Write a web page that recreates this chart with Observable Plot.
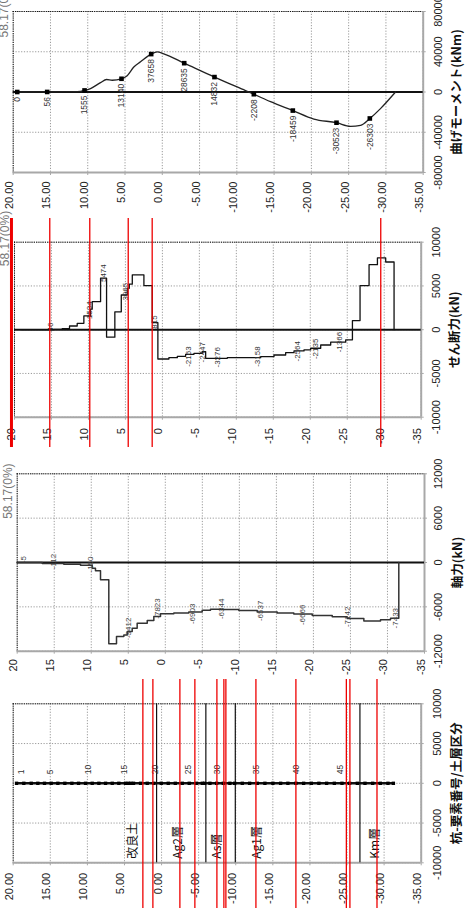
<!DOCTYPE html>
<html><head><meta charset="utf-8">
<script src="https://cdn.jsdelivr.net/npm/d3@7"></script>
<script src="https://cdn.jsdelivr.net/npm/@observablehq/plot@0.6"></script>
<style>
body{margin:0;background:#fff;}
#wrap{position:relative;width:476px;height:921px;overflow:hidden;background:#fff;}
#wrap svg{position:absolute;left:0;}
</style></head><body><div id="wrap"></div>
<script>
// ---------- shared ----------
const depthTicks = [20,15,10,5,0,-5,-10,-15,-20,-25,-30,-35];
const caseLabel = ["58.17(0%)"];

// ---------- panel 1 : bending moment ----------
const momentTicks = [80000,40000,0,-40000,-80000];
const momentCurveDepth = [19.47,15.44,11.42,10.43,9.63,8.29,7.48,6.72,5.47,4.71,3.82,2.92,1.49,0.69,-0.20,-2.94,-7.00,-11.16,-12.28,-14.52,-17.51,-20.33,-23.37,-25.25,-26.6,-27.84,-29.27,-31.29];
const momentCurveValue = [0,56,300,1555,3450,9300,12400,11700,13140,16200,24800,30000,37658,39800,37900,28635,14832,1400,-2208,-9650,-18459,-26900,-30523,-34100,-33100,-26303,-16500,0];
const momentMarkDepth = [19.46,15.44,10.43,5.47,1.49,-2.94,-7.00,-12.28,-17.51,-23.37,-27.84];
const momentMarkValue = [0,56,1555,13140,37658,28635,14832,-2208,-18459,-30523,-26303];

// ---------- panel 2 : shear force ----------
const shearTicks = [10000,5000,0,-5000,-10000];
const shearDepth = [19.10,14.68,13.55,12.56,11.52,10.62,9.72,9.49,8.36,7.55,6.43,5.56,4.75,4.48,4.07,2.50,1.37,0.61,-0.88,-2.02,-3.14,-4.27,-5.40,-5.85,-8.78,-13.29,-15.09,-16.67,-17.80,-19.15,-20.05,-21.41,-22.76,-24.79,-25.70,-26.73,-27.95,-29.08,-30.20,-31.33];
const shearValue = [0,38,115,424,730,1580,2350,3200,5890,-850,2040,3965,4735,5200,6275,5040,808,-3350,-3195,-3040,-2810,-2700,-2500,-3270,-3195,-3080,-2890,-2620,-2425,-2310,-2120,-1750,-1425,-1155,1040,5040,7430,8200,7740,0];
const shearLabelText = ["46","1534","5474","3965","815","-2163","-2447","-3276","-3158","-2564","-2135","-1366"];
const shearLabelDepth = [15.1,9.83,7.92,4.98,1.05,-3.59,-5.40,-7.43,-12.84,-18.25,-20.73,-23.88];
const shearLabelValue = [300,2230,6460,4350,885,-3077,-2577,-3150,-3077,-2460,-2190,-1420];
const shearRedDepth = [15.23,9.82,4.62,1.38,-29.53];
const shearRedEdge = [20.41];

// ---------- panel 3 : axial force ----------
const axialTicks = [12000,6000,0,-6000,-12000];
const axialDepth = [20.0,16.62,13.71,11.45,9.87,9.43,8.75,7.63,6.59,5.60,5.14,4.47,3.80,2.44,1.55,0.65,-1.15,-3.17,-4.98,-6.10,-7.45,-9.93,-12.41,-15.11,-17.35,-19.84,-22.54,-24.56,-26.81,-29.06,-30.41,-31.53];
const axialValue = [-5,-135,-225,-360,-770,-1130,-2345,-11000,-10010,-9800,-9340,-8890,-8210,-7850,-7300,-6930,-6840,-6700,-6470,-6330,-6375,-6510,-6700,-6840,-6980,-7160,-7345,-7580,-7900,-7760,-7530,0];
const axialLabelText = ["-5","-112","-150","-9412","-7823","-6903","-6344","-6537","-6666","-7142","-7433"];
const axialLabelDepth = [19.1,15.06,10.1,5.01,1.01,-3.63,-7.55,-12.86,-18.49,-24.56,-31.09];
const axialLabelValue = [400,135,-270,-8840,-6220,-6945,-6270,-6540,-7080,-7350,-7530];

// ---------- panel 4 : pile nodes / soil layers ----------
const pileTicks = [10000,5000,0,-5000,-10000];
const nodeDepth = [19.55,18.57,17.57,16.68,15.78,14.88,13.98,13.04,12.09,11.19,10.25,9.35,8.45,7.55,6.65,5.76,4.86,4.49,4.14,3.78,2.83,1.93,1.04,0.04,-0.90,-1.85,-2.79,-3.73,-4.68,-5.49,-5.80,-6.52,-7.42,-8.32,-9.21,-9.85,-10.88,-11.87,-12.90,-13.93,-15.01,-16.05,-17.03,-18.11,-19.15,-20.19,-21.21,-22.25,-23.29,-24.32,-25.35,-26.39,-27.42,-28.46,-29.49,-30.52,-31.25];
const nodeLabelText = ["1","5","10","15","20","25","30","35","40","45"];
const nodeLabelDepth = [18.92,15.06,9.94,4.99,0.81,-3.60,-7.51,-12.81,-18.21,-24.14];
const layerNames = ["改良土","Ag2層","As層","Ag1層","Km層"];
const layerLabelDepth = [3.28,-2.79,-7.96,-13.35,-29.31];
const layerBoundaryDepth = [0.67,-5.97,-9.94,-26.74];
const pileRedDepth = [2.52,1.17,-2.47,-4.49,-7.46,-8.40,-8.67,-12.72,-18.11,-24.91,-25.39,-29.04];

// ---------- helpers ----------
const NUM = "'Liberation Sans', Arial, sans-serif";
const JP = "'Noto Sans CJK JP', 'Noto Sans', sans-serif";
const zip = (d, v) => d.map((x, i) => ({depth: x, value: v[i]}));
const fmt2 = d => d.toFixed(2);
const fmt0 = d => String(d);

function panel(cfg) {
  const {top, height, mL, mR, mT, mB, yTicks, xFmt, xLabelDy, yLabelDx, title, titleDx, caseDy, marks} = cfg;
  const yMin = Math.min(...yTicks), yMax = Math.max(...yTicks);
  const frameW = 476 - mL - mR, frameH = height - mT - mB;
  const caseMarks = caseDy == null ? [] : [
    Plot.text(caseLabel, {text: d => d, x: () => 20, y: () => yMax, dx: -9, dy: caseDy, rotate: -90, textAnchor: "start", fontSize: 12, fill: "#777"})
  ];
  const svg = Plot.plot({
    width: 476, height,
    marginLeft: mL, marginRight: mR, marginTop: mT, marginBottom: mB,
    x: {domain: [20, -35], axis: null},
    y: {domain: [yMin, yMax], axis: null},
    style: {fontFamily: NUM, background: "transparent", color: "#222", overflow: "visible"},
    marks: [
      Plot.ruleX(depthTicks, {stroke: "#9a9a9a", strokeDasharray: "1.2,1.6", strokeWidth: 1}),
      Plot.ruleY(yTicks, {stroke: "#9a9a9a", strokeDasharray: "1.2,1.6", strokeWidth: 1}),
      Plot.ruleY([yMax], {stroke: "#111", strokeDasharray: "1.2,1", strokeWidth: 1}),
      Plot.ruleX([20], {stroke: "#111", strokeDasharray: "1.2,1", strokeWidth: 1}),
      Plot.ruleY([yMin], {stroke: "#a8a8a8", strokeWidth: 2}),
      Plot.ruleX([-35], {stroke: "#a8a8a8", strokeWidth: 2}),
      Plot.ruleX(depthTicks, {stroke: "#a8a8a8", insetTop: frameH, insetBottom: -3}),
      Plot.ruleY(yTicks, {stroke: "#a8a8a8", insetLeft: frameW, insetRight: -3}),
      Plot.text(depthTicks, {x: d => d, text: xFmt, frameAnchor: "bottom", dy: xLabelDy, rotate: -90, textAnchor: "end", fontSize: 11, fill: "#222"}),
      Plot.text(yTicks, {y: d => d, text: fmt0, frameAnchor: "right", dx: yLabelDx, rotate: -90, textAnchor: "middle", fontSize: 11, fill: "#222"}),
      Plot.text([title], {text: d => d, frameAnchor: "right", dx: titleDx, rotate: -90, textAnchor: "middle", fontWeight: "bold", fontSize: 12.5, fontFamily: JP, fill: "#111"}),
      ...caseMarks,
      ...marks(frameW, frameH)
    ]
  });
  svg.style.top = top + "px";
  document.getElementById("wrap").appendChild(svg);
}

// Panel 1
panel({
  top: 0, height: 218, mL: 12.7, mR: 53.3, mT: 11, mB: 46,
  yTicks: momentTicks, xFmt: fmt2, xLabelDy: 9, yLabelDx: 15,
  title: "曲げモーメント(kNm)", titleDx: 34, caseDy: 26,
  marks: () => [
    Plot.ruleY([0], {stroke: "#111", strokeWidth: 2}),
    Plot.line(zip(momentCurveDepth, momentCurveValue), {x: "depth", y: "value", curve: "monotone-x", stroke: "#222", strokeWidth: 1.3}),
    Plot.dot(zip(momentMarkDepth, momentMarkValue), {x: "depth", y: "value", symbol: "square", r: 2.6, fill: "#000"}),
    Plot.text(zip(momentMarkDepth, momentMarkValue), {x: "depth", y: "value", text: d => String(d.value), rotate: -90, textAnchor: "end", dy: 5, fontSize: 8.5, fill: "#333"})
  ]
});

// Panel 2
panel({
  top: 218, height: 242, mL: 14, mR: 55.3, mT: 23.7, mB: 43.3,
  yTicks: shearTicks, xFmt: fmt0, xLabelDy: 11, yLabelDx: 15,
  title: "せん断力(kN)", titleDx: 34, caseDy: 24,
  marks: () => [
    Plot.ruleY([0], {stroke: "#111", strokeWidth: 2}),
    Plot.line(zip(shearDepth, shearValue), {x: "depth", y: "value", curve: "step-after", stroke: "#111", strokeWidth: 1.3}),
    Plot.text(shearLabelText.map((t, i) => ({t, depth: shearLabelDepth[i], value: shearLabelValue[i]})), {x: "depth", y: "value", text: "t", rotate: -90, textAnchor: "middle", fontSize: 8, fill: "#333"}),
    Plot.ruleX(shearRedDepth, {stroke: "#ee0000", strokeWidth: 1.3, insetTop: -23.7, insetBottom: -30.3}),
    Plot.ruleX(shearRedEdge, {stroke: "#ee0000", strokeWidth: 3, insetTop: -23.7, insetBottom: -30.3})
  ]
});

// Panel 3
panel({
  top: 460, height: 219, mL: 16.7, mR: 52, mT: 13.3, mB: 28.3,
  yTicks: axialTicks, xFmt: fmt0, xLabelDy: 8, yLabelDx: 14,
  title: "軸力(kN)", titleDx: 33, caseDy: 45,
  marks: () => [
    Plot.ruleY([0], {stroke: "#111", strokeWidth: 2}),
    Plot.line(zip(axialDepth, axialValue), {x: "depth", y: "value", curve: "step-after", stroke: "#333", strokeWidth: 1.5}),
    Plot.text(axialLabelText.map((t, i) => ({t, depth: axialLabelDepth[i], value: axialLabelValue[i]})), {x: "depth", y: "value", text: "t", rotate: -90, textAnchor: "middle", fontSize: 8, fill: "#444"})
  ]
});

// Panel 4
panel({
  top: 679, height: 242, mL: 12.7, mR: 55.3, mT: 24.3, mB: 58.7,
  yTicks: pileTicks, xFmt: fmt2, xLabelDy: 10, yLabelDx: 16,
  title: "杭-要素番号/土層区分", titleDx: 36, caseDy: null,
  marks: () => [
    Plot.ruleX(layerBoundaryDepth, {stroke: "#111", strokeWidth: 1.2}),
    Plot.line(nodeDepth.map(d => ({depth: d, value: 0})), {x: "depth", y: "value", stroke: "#111", strokeWidth: 2.5}),
    Plot.dot(nodeDepth.map(d => ({depth: d, value: 0})), {x: "depth", y: "value", symbol: "square", r: 1.9, fill: "#000"}),
    Plot.text(nodeLabelText.map((t, i) => ({t, depth: nodeLabelDepth[i], value: 0})), {x: "depth", y: "value", text: "t", rotate: -90, textAnchor: "start", dy: -9, fontSize: 8.5, fill: "#333"}),
    Plot.text(layerNames.map((t, i) => ({t, depth: layerLabelDepth[i]})), {x: "depth", text: "t", frameAnchor: "bottom", dy: -4, rotate: -90, textAnchor: "start", fontSize: 12, fontFamily: JP, fill: "#111"}),
    Plot.ruleX(pileRedDepth, {stroke: "#ee0000", strokeWidth: 1.3, insetTop: -24.3, insetBottom: -45.7})
  ]
});
</script></body></html>
